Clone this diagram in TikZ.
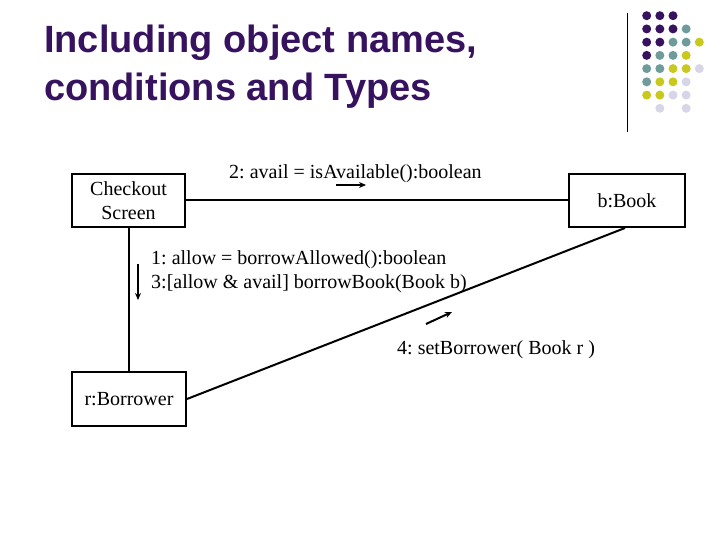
\documentclass[tikz,border=0pt]{standalone}
\usepackage{fontspec}
\setmainfont{Liberation Serif}
\newfontfamily\titlefont{Liberation Sans}
\usetikzlibrary{arrows.meta}
\definecolor{dpurple}{RGB}{55,18,95}
\definecolor{dteal}{RGB}{111,155,155}
\definecolor{dyellow}{RGB}{200,200,30}
\definecolor{dlav}{RGB}{214,214,232}
\tikzset{
  obj/.style={draw=black,line width=2pt,fill=white,align=center,font=\fontsize{20}{24}\selectfont,inner sep=0pt},
  link/.style={draw=black,line width=2pt},
  msgarrow/.style={draw=black,line width=2pt,-{Stealth[length=7pt,width=6pt]}},
  msg/.style={anchor=base west,font=\fontsize{20}{24}\selectfont,inner sep=0pt},
  ttl/.style={anchor=base west,font=\titlefont\bfseries\fontsize{38}{46}\selectfont,text=dpurple,inner sep=0pt},
}
\newcommand{\gdot}[3]{\fill[#3] ({646.7+13.15*#2},{15.7+13.23*#1}) circle (4.5);}
\begin{document}
\frenchspacing
\begin{tikzpicture}[x=1pt,y=-1pt]
\useasboundingbox (0,0) rectangle (720,540);
% title
\node[ttl] (t1) at (44,53) {Including object names,};
\node[ttl] (t2) at (44,101) {conditions and Types};
% decoration
\draw[line width=1.2pt] (627.5,13) -- (627.5,132);
\gdot{0}{0}{dpurple}\gdot{0}{1}{dpurple}\gdot{0}{2}{dpurple}
\gdot{1}{0}{dpurple}\gdot{1}{1}{dpurple}\gdot{1}{2}{dpurple}\gdot{1}{3}{dteal}
\gdot{2}{0}{dpurple}\gdot{2}{1}{dpurple}\gdot{2}{2}{dteal}\gdot{2}{3}{dteal}\gdot{2}{4}{dyellow}
\gdot{3}{0}{dpurple}\gdot{3}{1}{dteal}\gdot{3}{2}{dteal}\gdot{3}{3}{dyellow}
\gdot{4}{0}{dteal}\gdot{4}{1}{dteal}\gdot{4}{2}{dyellow}\gdot{4}{3}{dyellow}\gdot{4}{4}{dlav}
\gdot{5}{0}{dteal}\gdot{5}{1}{dyellow}\gdot{5}{2}{dyellow}\gdot{5}{3}{dlav}
\gdot{6}{0}{dyellow}\gdot{6}{1}{dyellow}\gdot{6}{2}{dlav}\gdot{6}{3}{dlav}
\gdot{7}{1}{dlav}\gdot{7}{3}{dlav}
% objects
\node[obj,minimum width=113pt,minimum height=53pt] (co) at (128.5,200.5) {Checkout\\Screen};
\node[obj,minimum width=116pt,minimum height=53pt] (bk) at (627,200.5) {b:Book};
\node[obj,minimum width=114pt,minimum height=54pt] (br) at (129,399) {r:Borrower};
% links
\draw[link] (co.east) -- (co.east -| bk.west);
\draw[link] (co.south) -- (co.south |- br.north);
\coordinate (bkb) at ([xshift=-2pt]bk.south);
\draw[link] (br.east) -- (bkb);
% messages
\coordinate (a2s) at (336,185);
\coordinate (a2e) at (366,185);
\draw[msgarrow] (a2s) -- (a2e);
\node[msg] (m2) at (229,179) {2: avail = isAvailable():boolean};
\coordinate (a1s) at (138,264);
\coordinate (a1e) at (138,300);
\draw[msgarrow] (a1s) -- (a1e);
\node[msg] (m1) at (151,264) {1: allow = borrowAllowed():boolean};
\node[msg] (m3) at (151,288) {3:[allow \& avail] borrowBook(Book b)};
\coordinate (a4s) at (426,324);
\coordinate (a4e) at (452,312);
\draw[msgarrow] (a4s) -- (a4e);
\node[msg] (m4) at (397,354) {4: setBorrower( Book r )};
\end{tikzpicture}
\end{document}
